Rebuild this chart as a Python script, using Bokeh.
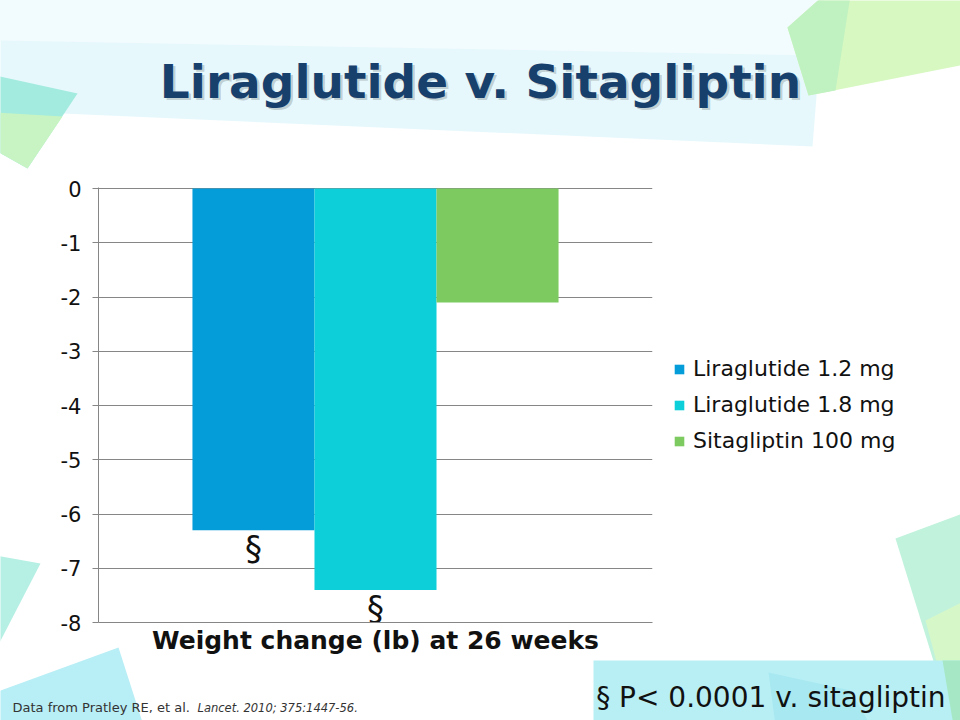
from bokeh.plotting import figure
from bokeh.models import Range1d, FixedTicker, ColumnDataSource, Legend, LegendItem
from bokeh.core.properties import value
from bokeh.embed import file_html
from bokeh.resources import INLINE
import numpy as np

# ---- data ----
series = ["Liraglutide 1.2 mg", "Liraglutide 1.8 mg", "Sitagliptin 100 mg"]
values = [-6.3, -7.4, -2.1]
signif = ["§", "§", ""]
colors = ["#049DD9", "#0DCFDA", "#7DCB60"]
y_ticks = [0, -1, -2, -3, -4, -5, -6, -7, -8]
title_text = "Liraglutide v. Sitagliptin"
axis_title = "Weight change (lb) at 26 weeks"
source_note = "Data from Pratley RE, et al."
source_cite = "Lancet. 2010; 375:1447-56."
p_note = "§ P< 0.0001 v. sitagliptin"

FONT = "DejaVu Sans"
GRID = "#868686"
W, H = 960, 720

# ================= background slide (decoration, title, notes, legend) =================
bg = figure(width=W, height=H, x_range=Range1d(0, W), y_range=Range1d(H, 0),
            x_axis_location=None, y_axis_location=None, min_border=0,
            output_backend="svg", toolbar_location=None, outline_line_color=None,
            background_fill_color="white", border_fill_color="white")
bg.grid.visible = False

shapes = [
    ([(-5, -5), (824, -5), (812, 146), (-5, 110)], "#E6F8FC"),
    ([(-5, -5), (824, -5), (819, 55), (-5, 40)], "#F2FBFE"),
    ([(-5, 75), (77, 93), (27, 168), (-5, 150)], "#A2EBDE"),
    ([(-5, 112), (62, 116), (27, 168), (-5, 150)], "#C8F4C4"),
    ([(787, 27), (823, -5), (965, -5), (965, 64), (808, 95)], "#D8F8C2"),
    ([(787, 27), (823, -5), (850, -5), (835, 90), (808, 95)], "#C0F1C0"),
    ([(-5, 555), (40, 563), (-5, 650)], "#B6F0E4"),
    ([(-5, 692), (118, 647), (143, 725), (-5, 725)], "#B8EEF5"),
    ([(895, 538), (965, 512), (965, 725), (953, 725)], "#C0F2DC"),
    ([(925, 620), (965, 600), (965, 725), (953, 725)], "#D6F8C8"),
    ([(593, 660), (965, 660), (965, 725), (593, 725)], "#B8EFF5"),
    ([(768, 672), (850, 690), (870, 725), (775, 725)], "#A8E8F0"),
    ([(942, 660), (965, 660), (965, 725), (953, 725)], "#A6E8C6"),
]
bg.patches(xs=[[a for a, b in s] for s, c in shapes], ys=[[b for a, b in s] for s, c in shapes],
           fill_color=[c for s, c in shapes], line_color=None)

bg.text(x=[482.5], y=[83], text=[title_text], text_align="center", text_baseline="alphabetic",
        text_font=value(FONT), text_font_style="bold", text_font_size="47px",
        text_color="#000000", text_alpha=0.18)
bg.text(x=[480], y=[80.5], text=[title_text], text_align="center", text_baseline="alphabetic",
        text_font=value(FONT), text_font_style="bold", text_font_size="47px",
        text_color="#18406C")
bg.text(x=[12], y=[707], text=[source_note], text_baseline="alphabetic",
        text_font=value(FONT), text_font_size="13px", text_color="#333333")
bg.text(x=[197], y=[707.5], text=[source_cite], text_baseline="alphabetic",
        text_font=value(FONT), text_font_style="italic", text_font_size="11.5px", text_color="#333333")
bg.text(x=[945], y=[696.5], text=[p_note], text_align="right", text_baseline="alphabetic",
        text_font=value(FONT), text_font_size="28px", text_color="#111111")

# legend proxies (series colours, no visible marks) and legend
proxies = [bg.vbar(x=[np.nan], top=[np.nan], width=1, fill_color=c, line_color=None) for c in colors]
legend = Legend(items=[LegendItem(label=s, renderers=[r]) for s, r in zip(series, proxies)],
                location=(673, 267), border_line_color=None, background_fill_alpha=0,
                padding=0, margin=0, glyph_width=12, glyph_height=12, label_standoff=8,
                label_height=24, spacing=11, label_text_font=FONT, label_text_font_size="22px",
                label_text_color="#111111")
bg.add_layout(legend)

# ================= chart (overlaid, transparent) =================
xpos = np.arange(len(series)) - (len(series) - 1) / 2
src = ColumnDataSource(dict(x=xpos, top=values, series=series, color=colors, sig=signif))

p = figure(frame_width=554, frame_height=435,
           min_border_left=98, min_border_right=308, min_border_top=187, min_border_bottom=98,
           x_range=Range1d(-2.27, 2.27), y_range=Range1d(-8, 8 / 434),
           output_backend="svg", toolbar_location=None,
           outline_line_color=None, background_fill_alpha=0, border_fill_alpha=0,
           styles={"position": "absolute", "left": "0px", "top": "0px"})

p.vbar(x="x", top="top", bottom=0, width=1.0, source=src, fill_color="color", line_color=None)

p.text(x="x", y="top", text="sig", source=src, text_align="center", text_baseline="top",
       y_offset=-2, text_font=value(FONT), text_font_size="34px", text_color="#111111")

p.xgrid.visible = False
p.ygrid.ticker = FixedTicker(ticks=y_ticks)
p.ygrid.grid_line_color = GRID
p.ygrid.grid_line_width = 1
p.ygrid.level = "underlay"

p.yaxis.ticker = FixedTicker(ticks=y_ticks)
p.yaxis.major_label_overrides = {t: str(t) for t in y_ticks}
p.yaxis.axis_line_color = GRID
p.yaxis.major_tick_line_color = GRID
p.yaxis.major_tick_out = 6
p.yaxis.major_tick_in = 0
p.yaxis.minor_tick_out = 0
p.yaxis.minor_tick_in = 0
p.yaxis.major_label_standoff = 11
p.yaxis.major_label_text_font = FONT
p.yaxis.major_label_text_font_size = "21px"
p.yaxis.major_label_text_color = "#111111"

p.xaxis.ticker = FixedTicker(ticks=[])
p.xaxis.axis_line_color = GRID
p.xaxis.major_tick_out = 0
p.xaxis.minor_tick_out = 0
p.xaxis.axis_label = axis_title
p.xaxis.axis_label_text_font = FONT
p.xaxis.axis_label_text_font_style = "bold"
p.xaxis.axis_label_text_font_size = "25px"
p.xaxis.axis_label_text_color = "#111111"
p.xaxis.axis_label_standoff = 3

open("out.html", "w").write(file_html([bg, p], INLINE))
